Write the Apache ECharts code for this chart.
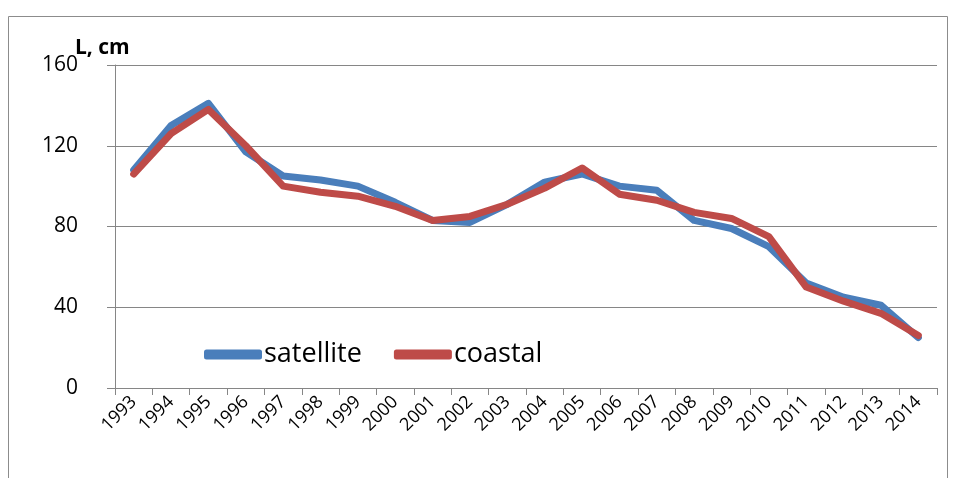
<!DOCTYPE html>
<html>
<head>
<meta charset="utf-8">
<script src="https://cdn.jsdelivr.net/npm/echarts@6/dist/echarts.min.js"></script>
<style>
html, body { margin: 0; padding: 0; background: #fff; }
#main { width: 954px; height: 478px; }
</style>
</head>
<body>
<div id="main"></div>
<script>
var years = ['1993', '1994', '1995', '1996', '1997', '1998', '1999', '2000', '2001', '2002', '2003',
	'2004', '2005', '2006', '2007', '2008', '2009', '2010', '2011', '2012', '2013', '2014'];
var satellite = [108, 130, 141, 117, 105, 103, 100, 92, 83, 82, 91, 102, 106, 100, 98, 83, 79, 70, 52, 45, 41, 25];
var coastal = [106, 126, 138, 120, 100, 97, 95, 90, 83, 85, 91, 99, 109, 96, 93, 87, 84, 75, 50, 43, 37, 26];
var yTicks = [0, 40, 80, 120, 160];

var font = '"Open Sans", "Liberation Sans", sans-serif';
var myChart = echarts.init(document.getElementById('main'));

var lineSeries = function(name, values, color) {
	return {
		name: name,
		type: 'line',
		data: values,
		symbol: 'none',
		smooth: false,
		lineStyle: { width: 7, color: color, cap: 'round', join: 'round' },
		itemStyle: { color: color }
	};
};

option = {
	animation: false,
	backgroundColor: '#fff',
	graphic: [{
		type: 'rect',
		shape: { x: 8.5, y: 16.5, width: 939, height: 480 },
		style: { fill: 'none', stroke: '#8c8c8c', lineWidth: 1 },
		silent: true
	}],
	title: {
		text: 'L, cm',
		left: 70,
		top: 33,
		textStyle: { fontFamily: font, fontSize: 21, fontWeight: 'bold', color: '#000' }
	},
	legend: {
		data: ['satellite', 'coastal'],
		left: 199,
		top: 336,
		icon: 'roundRect',
		itemWidth: 58,
		itemHeight: 10,
		itemGap: 32,
		textStyle: { fontFamily: font, fontSize: 27, color: '#000', padding: [0, 0, 0, -3] }
	},
	grid: { left: 115, right: 17, top: 65, bottom: 90 },
	xAxis: {
		type: 'category',
		data: years,
		boundaryGap: true,
		axisLine: { lineStyle: { color: '#868686', width: 1 } },
		axisTick: { show: true, length: 7, lineStyle: { color: '#868686' } },
		axisLabel: { rotate: 45, interval: 0, margin: 11, fontFamily: font, fontSize: 18, color: '#000' },
		splitLine: { show: false }
	},
	yAxis: {
		type: 'value',
		min: 0,
		max: 160,
		interval: 40,
		axisLine: { show: true, lineStyle: { color: '#868686', width: 1 } },
		axisTick: { show: true, length: 8, lineStyle: { color: '#868686' } },
		axisLabel: {
			margin: 37,
			fontFamily: font,
			fontSize: 21,
			color: '#000',
			formatter: function(v) { return yTicks.indexOf(v) >= 0 ? String(v) : ''; }
		},
		splitLine: { lineStyle: { color: '#868686', width: 1 } }
	},
	series: [
		lineSeries('satellite', satellite, '#4a7ebb'),
		lineSeries('coastal', coastal, '#be4b48')
	]
};
myChart.setOption(option);
</script>
</body>
</html>
